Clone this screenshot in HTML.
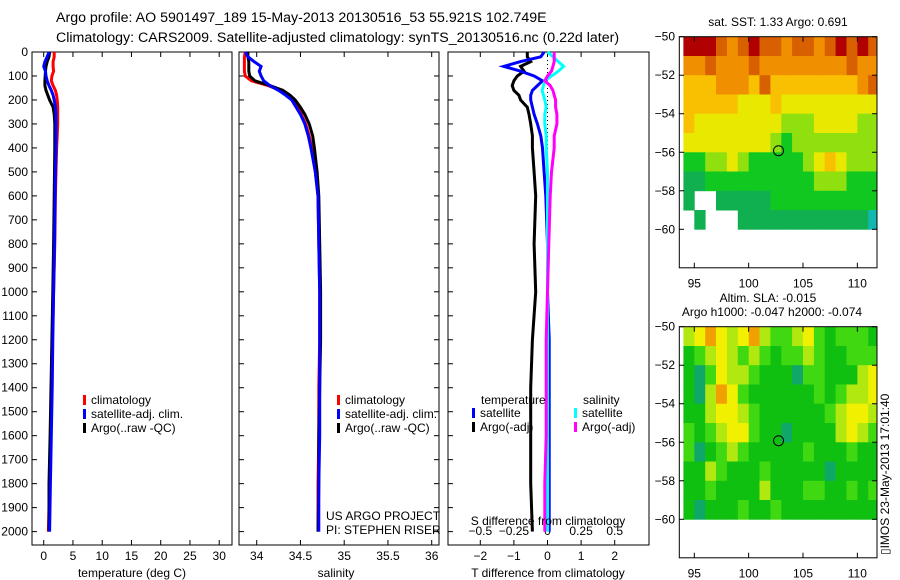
<!DOCTYPE html>
<html><head><meta charset="utf-8"><style>
body{margin:0;background:#fff}
svg{display:block;font-family:"Liberation Sans",sans-serif}
text{fill:#000}
</style></head><body>
<svg id="fig" width="900" height="580" viewBox="0 0 900 580" xmlns="http://www.w3.org/2000/svg">
<text x="56" y="22" font-size="14.2">Argo profile: AO 5901497_189 15-May-2013 20130516_53 55.921S 102.749E</text>
<text x="56" y="42" font-size="14.2">Climatology: CARS2009. Satellite-adjusted climatology: synTS_20130516.nc (0.22d later)</text>
<g id="g1"></g>
<g id="g2"></g>
<g id="g3"></g>
<g id="m1"></g>
<g id="m2"></g>
<text transform="translate(889,555) rotate(-90)" font-size="12">▯IMOS 23-May-2013 17:01:40</text>
</svg>
<script>
// ---- data ----
const depths=[0,20,40,60,80,100,120,140,160,180,200,230,260,300,350,400,500,600,800,1000,1200,1400,1600,1800,2000];
const tempArgo=[1.0,0.9,0.6,0.4,0.3,0.25,0.2,0.2,0.4,0.7,1.0,1.6,1.8,1.9,1.9,1.9,1.85,1.8,1.7,1.55,1.4,1.25,1.1,0.9,0.9];
const tempClim=[1.8,1.8,1.6,1.6,1.7,1.4,1.3,1.6,2.0,2.2,2.3,2.4,2.4,2.4,2.3,2.2,2.1,2.0,1.9,1.7,1.5,1.35,1.2,1.0,0.8];
const tempSat=[0.9,0.6,0.2,0.0,0.3,0.4,0.6,0.9,1.3,1.6,1.8,2.0,2.1,2.1,2.1,2.1,2.0,1.95,1.85,1.7,1.55,1.45,1.3,1.15,1.0];
const salArgo=[33.9,33.9,33.91,33.91,33.91,33.92,33.98,34.15,34.3,34.38,34.44,34.5,34.55,34.6,34.64,34.66,34.69,34.71,34.72,34.73,34.73,34.72,34.71,34.71,34.7];
const salClim=[33.87,33.86,33.86,33.86,33.86,33.87,33.94,34.13,34.27,34.35,34.42,34.47,34.51,34.56,34.6,34.63,34.67,34.7,34.71,34.72,34.72,34.71,34.71,34.7,34.7];
const salSat=[33.87,33.9,33.97,34.05,34.03,34.05,34.08,34.15,34.25,34.33,34.4,34.45,34.5,34.55,34.59,34.62,34.67,34.7,34.71,34.72,34.72,34.72,34.72,34.71,34.71];
const dTArgo=[-0.6,-0.6,-0.5,-0.8,-0.7,-0.9,-1.0,-1.05,-1.0,-0.85,-0.8,-0.6,-0.55,-0.5,-0.45,-0.45,-0.4,-0.35,-0.4,-0.35,-0.45,-0.5,-0.5,-0.5,-0.45];
const dTSat=[-0.1,-0.2,-0.8,-1.3,-0.8,-0.4,-0.15,-0.3,-0.45,-0.5,-0.5,-0.45,-0.4,-0.3,-0.2,-0.15,-0.1,-0.05,0,0,0.05,0.05,0.05,0.05,0.05];
const dSSat=[0.0,0.04,0.08,0.12,0.08,0.03,-0.02,-0.03,-0.04,-0.03,-0.02,-0.01,-0.02,-0.02,-0.01,-0.01,0.0,0.0,0.0,0.0,0.0,0.0,0.0,0.0,0.0];
const dSArgo=[0.05,0.05,0.05,0.04,0.03,0.0,-0.02,0.02,0.04,0.05,0.06,0.06,0.07,0.07,0.05,0.05,0.03,0.02,0.01,0.0,-0.01,-0.01,-0.01,-0.02,-0.02];
const depthTicks=[0,100,200,300,400,500,600,700,800,900,1000,1100,1200,1300,1400,1500,1600,1700,1800,1900,2000];
const tempTicks=[0,5,10,15,20,25,30];
const salTicks=[34,34.5,35,35.5,36];
const dTTicks=[-2,-1,0,1,2];
const dSTicks=[-0.5,-0.25,0,0.25,0.5];
const sstGrid=[
"999878988788789898","778777877777777877","666777686666666678","666665556555555555",
"655555555444555544","555555554344444444","334454333334565444","223333333333444333",
"2..222223333333333",".2...2222222222221"];
const slaGrid=[
"345434532234212221","123432321223211222","102433211102211134","103542111111212334",
"113443211111123443","212344211011113432","201232111112111211","113211121111101111",
"112111131112211212","101112112111111111"];
const sstColors=["#1060e0","#10b8b0","#10b050","#10c820","#90e010","#e8e800","#f8c000","#f09000","#d86000","#b00000"];
const slaColors=["#10a868","#10c010","#40d810","#b0e810","#f0f000","#f0a000"];

const NS="http://www.w3.org/2000/svg";
function mk(p,t,a){const e=document.createElementNS(NS,t);for(const k in a)e.setAttribute(k,a[k]);p.appendChild(e);return e;}
const yD=d=>52+d*0.2398;
function txt(p,x,y,s,anchor,size,name){const e=mk(p,"text",{x:x,y:y,"font-size":size||12,"text-anchor":anchor||"start"});e.textContent=s;


return e;}
function frame(p,x0,x1,name){const r=mk(p,"rect",{x:x0,y:52,width:x1-x0,height:493,fill:"none",stroke:"#000","stroke-width":1});

}
function line(p,vals,fx,col,name,w){const pts=vals.map((v,i)=>fx(v).toFixed(1)+","+yD(depths[i]).toFixed(1)).join(" ");
const e=mk(p,"polyline",{points:pts,fill:"none",stroke:col,"stroke-width":w||3,"stroke-linejoin":"miter"});

}
function xticks(p,ticks,fx,yLab,top,bottom){ticks.forEach(t=>{const x=fx(t);
if(bottom)mk(p,"line",{x1:x,x2:x,y1:545,y2:540,stroke:"#000"});
if(top)mk(p,"line",{x1:x,x2:x,y1:52,y2:57,stroke:"#000"});
if(yLab)txt(p,x,yLab,String(t).replace("-","\u2212"),"middle",12,"x-tick-label");});}
function legend(p,x,y,cols,labels){labels.forEach((l,i)=>{const r=mk(p,"rect",{x:x,y:y+i*14-9,width:3,height:10,fill:cols[i]});


txt(p,x+8,y+i*14,l,"start",12,"legend-entry");});}

// Panel 1
const g1=document.getElementById("g1");
const fT=v=>43.7+v*5.85;
frame(g1,32,232,"temperature-axes");
depthTicks.forEach(d=>{mk(g1,"line",{x1:32,x2:37,y1:yD(d),y2:yD(d),stroke:"#000"});txt(g1,28,yD(d)+4,String(d),"end",12,"y-tick-label");});
xticks(g1,tempTicks,fT,560,true,true);
txt(g1,132,577,"temperature (deg C)","middle",12,"x-axis-title");
line(g1,tempClim,fT,"#f00","temp-climatology-line");
line(g1,tempArgo,fT,"#000","temp-argo-line");
line(g1,tempSat,fT,"#00f","temp-satellite-line");
legend(g1,83,404,["#f00","#00f","#000"],["climatology","satellite-adj. clim.","Argo(..raw -QC)"]);

// Panel 2
const g2=document.getElementById("g2");
const fS=v=>256.7+(v-34)*87.5;
frame(g2,239,439,"salinity-axes");
depthTicks.forEach(d=>{mk(g2,"line",{x1:239,x2:244,y1:yD(d),y2:yD(d),stroke:"#000"});mk(g2,"line",{x1:439,x2:434,y1:yD(d),y2:yD(d),stroke:"#000"});});
xticks(g2,salTicks,fS,560,true,true);
txt(g2,336,577,"salinity","middle",12,"x-axis-title");
line(g2,salClim,fS,"#f00","sal-climatology-line");
line(g2,salArgo,fS,"#000","sal-argo-line");
line(g2,salSat,fS,"#00f","sal-satellite-line");
legend(g2,337,404,["#f00","#00f","#000"],["climatology","satellite-adj. clim.","Argo(..raw -QC)"]);
txt(g2,326,520,"US ARGO PROJECT","start",12,"project-credit");
txt(g2,326,534,"PI: STEPHEN RISER","start",12,"pi-credit");

// Panel 3
const g3=document.getElementById("g3");
const fDT=v=>547.5+v*33.6;
const fDS=v=>547.5+v*134.4;
frame(g3,448,649,"difference-axes");
depthTicks.forEach(d=>{mk(g3,"line",{x1:448,x2:453,y1:yD(d),y2:yD(d),stroke:"#000"});});
xticks(g3,dTTicks,fDT,560,true,true);
dSTicks.forEach(t=>txt(g3,fDS(t),535,String(t).replace("-","\u2212"),"middle",12,"s-tick-label"));
const z=mk(g3,"line",{x1:547.5,x2:547.5,y1:60,y2:150,stroke:"#000","stroke-dasharray":"1,3"});


line(g3,dTArgo,fDT,"#000","t-diff-argo-line");
line(g3,dTSat,fDT,"#00f","t-diff-satellite-line");
line(g3,dSSat,fDS,"#0ff","s-diff-satellite-line");
line(g3,dSArgo,fDS,"#f0f","s-diff-argo-line");
txt(g3,481,404,"temperature","start",12,"legend-title-temperature");
txt(g3,583,404,"salinity","start",12,"legend-title-salinity");
legend(g3,472,417,["#00f","#000"],["satellite","Argo(-adj)"]);
legend(g3,574,417,["#0ff","#f0f"],["satellite","Argo(-adj)"]);
txt(g3,548,525,"S difference from climatology","middle",12,"s-axis-title");
txt(g3,548,577,"T difference from climatology","middle",12,"t-axis-title");

// Maps
function map(id,top,grid,colors,titles){const g=document.getElementById(id);
const fx=lon=>679.3+(lon-93.62)*10.87, fy=lat=>top+(lat-50)*19.26;
grid.forEach((row,r)=>{for(let c=0;c<row.length;c++){const ch=row[c];if(ch===".")continue;
const x0=Math.max(fx(94+c),679.3),x1=Math.min(fx(95+c),877);
const cell=mk(g,"rect",{x:x0.toFixed(1),y:fy(50+r).toFixed(1),width:(x1-x0+0.4).toFixed(1),height:19.7,fill:colors[+ch]});

}});
const b=mk(g,"rect",{x:679.3,y:top,width:197.7,height:231.1,fill:"none",stroke:"#000"});


[50,52,54,56,58,60].forEach(l=>{mk(g,"line",{x1:679.3,x2:684,y1:fy(l),y2:fy(l),stroke:"#000"});mk(g,"line",{x1:877,x2:872,y1:fy(l),y2:fy(l),stroke:"#000"});txt(g,675,fy(l)+4,"\u2212"+l,"end",12,"lat-tick-label");});
[95,100,105,110].forEach(l=>{mk(g,"line",{x1:fx(l),x2:fx(l),y1:top+231,y2:top+226,stroke:"#000"});mk(g,"line",{x1:fx(l),x2:fx(l),y1:top,y2:top+5,stroke:"#000"});txt(g,fx(l),top+251,String(l),"middle",12,"lon-tick-label");});
const c=mk(g,"circle",{cx:fx(102.749),cy:fy(55.921),r:5,fill:"none",stroke:"#000"});


titles.forEach((t,i)=>txt(g,t[0],t[1],t[2],"middle",12,"map-title"));}
map("m1",36.7,sstGrid,sstColors,[[778,26,"sat. SST: 1.33  Argo: 0.691"]]);
map("m2",326.7,slaGrid,slaColors,[[768,302,"Altim. SLA: -0.015"],[772,316,"Argo h1000: -0.047 h2000: -0.074"]]);
</script>
</body></html>
